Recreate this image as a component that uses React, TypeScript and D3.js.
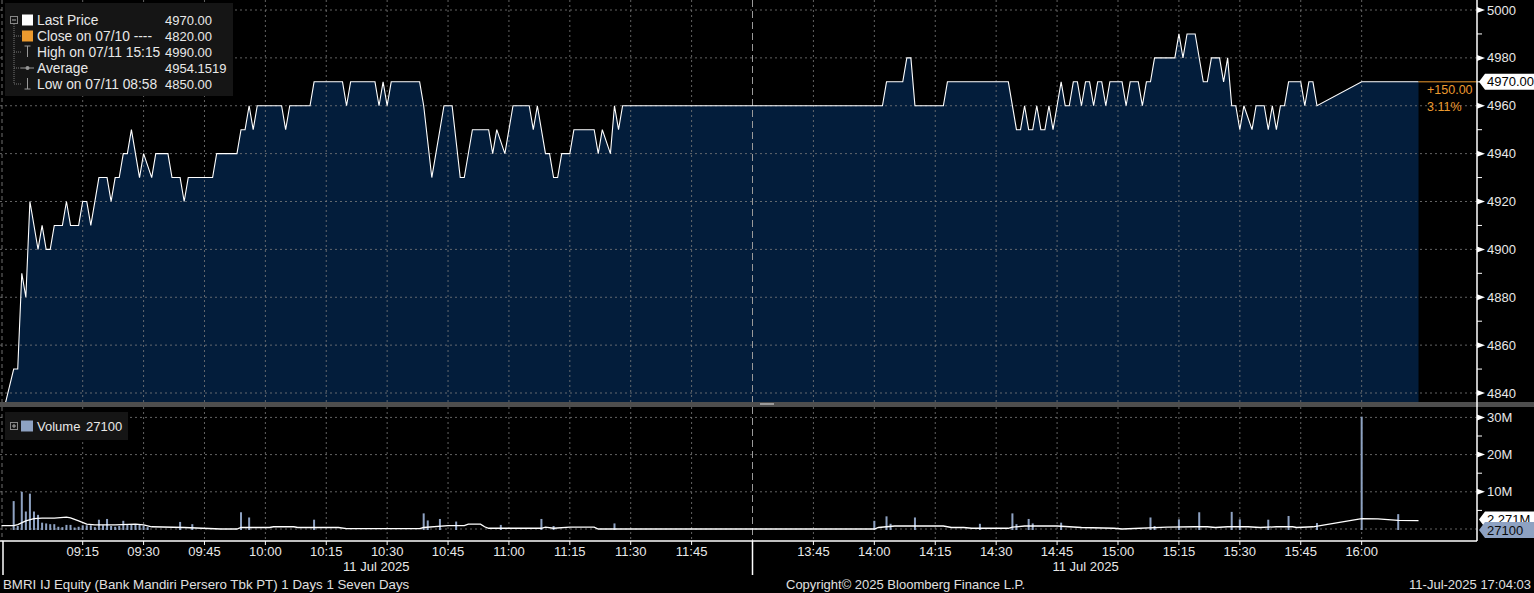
import React from "react";
import * as d3 from "d3";

// ---------- DATA ----------
// minute-bar price turning points (time, price)
const priceSeries: [string, number][] = [
  ["08:56", 4836], ["08:58", 4850], ["08:59", 4850], ["09:00", 4890], ["09:01", 4880], ["09:02", 4920],
  ["09:04", 4900], ["09:05", 4910], ["09:06", 4900], ["09:07", 4900], ["09:08", 4910], ["09:10", 4910],
  ["09:11", 4920], ["09:12", 4910], ["09:14", 4910], ["09:15", 4920], ["09:16", 4920], ["09:17", 4910],
  ["09:19", 4930], ["09:21", 4930], ["09:22", 4920], ["09:23", 4930], ["09:24", 4930], ["09:25", 4940],
  ["09:26", 4940], ["09:27", 4950], ["09:29", 4930], ["09:30", 4940], ["09:32", 4930], ["09:33", 4940],
  ["09:36", 4940], ["09:37", 4930], ["09:39", 4930], ["09:40", 4920], ["09:41", 4930], ["09:47", 4930],
  ["09:48", 4940], ["09:53", 4940], ["09:54", 4950], ["09:55", 4950], ["09:56", 4960], ["09:57", 4950],
  ["09:58", 4960], ["10:04", 4960], ["10:05", 4950], ["10:06", 4960], ["10:11", 4960], ["10:12", 4970],
  ["10:19", 4970], ["10:20", 4960], ["10:21", 4970], ["10:27", 4970], ["10:28", 4960], ["10:29", 4970],
  ["10:30", 4960], ["10:31", 4970], ["10:38", 4970], ["10:39", 4960], ["10:41", 4930], ["10:44", 4960],
  ["10:46", 4960], ["10:48", 4930], ["10:49", 4930], ["10:51", 4950], ["10:55", 4950], ["10:56", 4940],
  ["10:57", 4950], ["10:59", 4940], ["11:01", 4960], ["11:05", 4960], ["11:06", 4950], ["11:07", 4960],
  ["11:09", 4940], ["11:10", 4940], ["11:11", 4930], ["11:12", 4930], ["11:13", 4940], ["11:15", 4940],
  ["11:16", 4950], ["11:21", 4950], ["11:22", 4940], ["11:23", 4950], ["11:25", 4940], ["11:26", 4960],
  ["11:27", 4950], ["11:28", 4960],
  ["14:02", 4960], ["14:03", 4970], ["14:07", 4970], ["14:08", 4980], ["14:09", 4980], ["14:10", 4960],
  ["14:17", 4960], ["14:18", 4970], ["14:33", 4970], ["14:35", 4950], ["14:36", 4950], ["14:37", 4960],
  ["14:38", 4950], ["14:39", 4950], ["14:40", 4960], ["14:41", 4950], ["14:42", 4950], ["14:43", 4960],
  ["14:44", 4950], ["14:45", 4960], ["14:46", 4970], ["14:47", 4960], ["14:48", 4960], ["14:49", 4970],
  ["14:50", 4970], ["14:51", 4960], ["14:52", 4970], ["14:53", 4970], ["14:54", 4960], ["14:55", 4970],
  ["14:56", 4970], ["14:57", 4960], ["14:58", 4970], ["15:01", 4970], ["15:02", 4960], ["15:03", 4970],
  ["15:05", 4970], ["15:06", 4960], ["15:07", 4970], ["15:08", 4970], ["15:09", 4980], ["15:14", 4980],
  ["15:15", 4990], ["15:16", 4980], ["15:17", 4990], ["15:19", 4990], ["15:21", 4970], ["15:22", 4970],
  ["15:23", 4980], ["15:25", 4980], ["15:26", 4970], ["15:27", 4980], ["15:28", 4960], ["15:29", 4960],
  ["15:30", 4950], ["15:31", 4960], ["15:33", 4950], ["15:34", 4960], ["15:36", 4960], ["15:37", 4950],
  ["15:38", 4960], ["15:39", 4950], ["15:40", 4960], ["15:41", 4960], ["15:42", 4970], ["15:45", 4970],
  ["15:46", 4960], ["15:47", 4970], ["15:48", 4970], ["15:49", 4960], ["16:00", 4970], ["16:14", 4970],
];

// volume bars (time, millions of shares)
const volumeSeries: [string, number][] = [
  ["08:58", 7.5], ["08:59", 0.8], ["09:00", 10.0], ["09:01", 4.7], ["09:02", 9.5], ["09:03", 4.7],
  ["09:04", 3.8], ["09:05", 1.7], ["09:06", 1.5], ["09:07", 1.3], ["09:08", 1.3], ["09:09", 0.6],
  ["09:10", 0.5], ["09:11", 1.1], ["09:12", 1.1], ["09:13", 0.4], ["09:14", 0.6], ["09:15", 1.0],
  ["09:16", 1.0], ["09:17", 1.0], ["09:18", 0.5], ["09:19", 2.5], ["09:20", 1.0], ["09:21", 2.7],
  ["09:22", 0.8], ["09:23", 0.6], ["09:24", 0.8], ["09:25", 2.2], ["09:26", 1.3], ["09:27", 1.3],
  ["09:28", 1.3], ["09:29", 1.3], ["09:30", 0.9], ["09:31", 0.5], ["09:39", 1.9], ["09:42", 1.3],
  ["09:54", 4.5], ["09:56", 3.1], ["10:12", 2.5], ["10:39", 4.2], ["10:40", 2.3], ["10:43", 2.7],
  ["10:47", 2.0], ["10:58", 1.1], ["11:08", 2.7], ["11:11", 0.8], ["11:26", 1.5],
  ["14:00", 2.2], ["14:03", 3.4], ["14:04", 1.4], ["14:10", 3.1], ["14:26", 1.4], ["14:34", 4.2],
  ["14:35", 1.3], ["14:38", 2.7], ["14:39", 1.5], ["14:46", 1.7], ["15:08", 3.1], ["15:09", 0.8],
  ["15:15", 2.6], ["15:20", 4.5], ["15:28", 4.6], ["15:30", 2.6], ["15:37", 2.5], ["15:42", 3.5],
  ["15:49", 1.6], ["16:00", 30.2], ["16:09", 4.0],
];

// volume moving average (time, millions)
const volumeAvg: [string, number][] = [
  ["08:55", 0.9], ["08:58", 0.9], ["08:59", 1.2], ["09:01", 2.2], ["09:03", 2.8], ["09:05", 2.9],
  ["09:08", 2.9], ["09:11", 3.2], ["09:12", 3.0], ["09:14", 2.2], ["09:16", 1.3], ["09:18", 1.1],
  ["09:23", 1.1], ["09:28", 1.3], ["09:30", 1.1], ["09:32", 0.6], ["09:40", 0.4], ["09:49", 0.0],
  ["09:53", 0.0], ["09:54", 0.4], ["10:01", 0.4], ["10:02", 0.6], ["10:07", 0.6], ["10:08", 0.4],
  ["10:18", 0.4], ["10:20", 0.1], ["10:38", 0.1], ["10:39", 0.4], ["10:45", 0.9], ["10:49", 0.9],
  ["10:50", 1.3], ["10:53", 1.3], ["10:54", 0.6], ["10:55", 0.2], ["11:08", 0.2], ["11:09", 0.5],
  ["11:11", 0.2], ["11:15", 0.5], ["11:21", 0.5], ["11:22", 0.0],
  ["14:00", 0.0], ["14:01", 0.4], ["14:05", 0.8], ["14:17", 0.8], ["14:19", 0.4], ["14:22", 0.4],
  ["14:24", 0.2], ["14:33", 0.2], ["14:34", 0.5], ["14:37", 0.8], ["14:45", 0.8], ["14:51", 0.4],
  ["14:59", 0.2], ["15:01", 0.0], ["15:12", 0.5], ["15:19", 0.6], ["15:22", 0.6], ["15:24", 0.4],
  ["15:27", 0.6], ["15:32", 0.6], ["15:35", 0.4], ["15:39", 0.6], ["15:43", 0.6], ["15:44", 0.4],
  ["15:48", 0.6], ["16:00", 2.8], ["16:04", 2.7], ["16:09", 2.3], ["16:14", 2.27],
];

const session1Ticks = ["09:15", "09:30", "09:45", "10:00", "10:15", "10:30", "10:45", "11:00", "11:15", "11:30", "11:45"];
const session2Ticks = ["13:45", "14:00", "14:15", "14:30", "14:45", "15:00", "15:15", "15:30", "15:45", "16:00"];
const priceTicks = [4840, 4860, 4880, 4900, 4920, 4940, 4960, 4980, 5000];
const priceMinorTicks = [4850, 4870, 4890, 4910, 4930, 4950, 4970, 4990];
const volumeTicks = [10, 20, 30];
const volumeMinorTicks = [5, 15, 25];

const legendLabels = ["Last Price", "Close on 07/10 ----", "High on 07/11 15:15", "Average", "Low on 07/11 08:58"];
const legendValues = ["4970.00", "4820.00", "4990.00", "4954.1519", "4850.00"];
const lastPrice = 4970;
const changeText = ["+150.00", "3.11%"];
const volumeLast = "27100";
const volumeAvgLast = 2.271;
const dateLabel = "11 Jul 2025";
const footerLeft = "BMRI IJ Equity (Bank Mandiri Persero Tbk PT) 1 Days 1 Seven Days";
const footerMid = "Copyright\u00A9 2025 Bloomberg Finance L.P.";
const footerRight = "11-Jul-2025 17:04:03";

// ---------- LAYOUT ----------
const W = 1534, H = 593;
const PLOT_R = 1477;
const PRICE_BOTTOM = 402;
const VOL_TOP = 407;
const AXIS_Y = 541;
const FONT = "'Liberation Sans', Arial, sans-serif";
const FILL = "#031d3b";
const VOL_COLOR = "#8ea2c2";
const ORANGE = "#eb9a2f";
const GRID = "#7c7c7c";

const tm = (s: string) => {
  const [h, m] = s.split(":").map(Number);
  return (h - 9) * 60 + m;
};

export default function App() {
  const x = d3.scaleLinear().domain([-5.37, 180, 270, 448.4]).range([0, 752.5, 752.5, PLOT_R]);
  const yP = d3.scaleLinear().domain([4840, 5000]).range([393, 10]);
  const yV = d3.scaleLinear().domain([0, 30]).range([529, 417.4]);

  const pts = priceSeries.map(([t, v]) => ({ t: tm(t), v }));
  const areaPath = d3.area<{ t: number; v: number }>().x(d => x(d.t)).y0(PRICE_BOTTOM).y1(d => yP(d.v))(pts) || "";
  const linePath = d3.line<{ t: number; v: number }>().x(d => x(d.t)).y(d => yP(d.v))(pts) || "";
  const avgPts = volumeAvg.map(([t, v]) => ({ t: tm(t), v }));
  const avgPath = d3.line<{ t: number; v: number }>().x(d => x(d.t)).y(d => yV(d.v))(avgPts) || "";

  const allTicks = [...session1Ticks, ...session2Ticks];
  const lastX = x(tm(priceSeries[priceSeries.length - 1][0]));
  const breakX = x(180);
  const startX = 2;

  const tag = (y: number, fill: string, text: string, color: string, key: string) => (
    <g key={key}>
      <path d={`M1479,${y} L1485,${y - 8} L${W},${y - 8} L${W},${y + 8} L1485,${y + 8} Z`} fill={fill} />
      <text x={1487} y={y} dy="0.35em" fill={color} fontSize={13} fontFamily={FONT}>{text}</text>
    </g>
  );

  const rowY = [20, 36, 52, 68, 84];

  return (
    <svg width={W} height={H} style={{ position: "fixed", left: 0, top: 0, background: "#000" }} fontFamily={FONT}>
      <rect x={0} y={0} width={W} height={H} fill="#000" />
      {/* price area */}
      <path d={areaPath} fill={FILL} />

      {/* price grid */}
      {priceTicks.map(v => (
        <line key={"pg" + v} x1={0} x2={PLOT_R} y1={yP(v)} y2={yP(v)} stroke={GRID} strokeDasharray="2,3" strokeWidth={1} opacity={0.8} />
      ))}
      {allTicks.map(t => (
        <line key={"pv" + t} x1={x(tm(t))} x2={x(tm(t))} y1={0} y2={PRICE_BOTTOM} stroke={GRID} strokeDasharray="2,3" opacity={0.8} />
      ))}
      <line x1={startX} x2={startX} y1={0} y2={PRICE_BOTTOM} stroke={GRID} strokeDasharray="4,3" opacity={0.9} />
      <line x1={breakX} x2={breakX} y1={0} y2={PRICE_BOTTOM} stroke="#9a9a9a" strokeDasharray="7,4" />

      {/* price line */}
      <path d={linePath} fill="none" stroke="#fff" strokeWidth={1.1} />
      <line x1={lastX} x2={PLOT_R} y1={yP(lastPrice)} y2={yP(lastPrice)} stroke={ORANGE} strokeWidth={1} />
      <text x={1427} y={89.5} dy="0.35em" fill={ORANGE} fontSize={12.5}>{changeText[0]}</text>
      <text x={1427} y={106.5} dy="0.35em" fill={ORANGE} fontSize={12.5}>{changeText[1]}</text>

      {/* volume grid */}
      {[0, ...volumeTicks].map(v => (
        <line key={"vg" + v} x1={0} x2={PLOT_R} y1={yV(v)} y2={yV(v)} stroke={GRID} strokeDasharray="2,3" opacity={0.8} />
      ))}
      {allTicks.map(t => (
        <line key={"vv" + t} x1={x(tm(t))} x2={x(tm(t))} y1={VOL_TOP} y2={AXIS_Y} stroke={GRID} strokeDasharray="2,3" opacity={0.8} />
      ))}
      <line x1={startX} x2={startX} y1={VOL_TOP} y2={AXIS_Y} stroke={GRID} strokeDasharray="4,3" opacity={0.9} />
      <line x1={breakX} x2={breakX} y1={VOL_TOP} y2={AXIS_Y} stroke="#9a9a9a" strokeDasharray="7,4" />

      {/* volume bars */}
      {volumeSeries.map(([t, v]) => (
        <rect key={"vb" + t} x={x(tm(t)) - 1} y={yV(v)} width={2} height={yV(0) - yV(v) + 1} fill={VOL_COLOR} />
      ))}
      <path d={avgPath} fill="none" stroke="#fff" strokeWidth={1.3} />

      {/* panel separator */}
      <rect x={0} y={PRICE_BOTTOM} width={W} height={5} fill="#4e4e4e" />
      <rect x={760} y={403} width={14} height={2} fill="#9a9a9a" />

      {/* axes */}
      <line x1={PLOT_R} x2={PLOT_R} y1={0} y2={AXIS_Y} stroke="#fff" strokeWidth={1.5} />
      <line x1={0} x2={PLOT_R} y1={AXIS_Y} y2={AXIS_Y} stroke="#fff" strokeWidth={1.5} />
      {priceTicks.map(v => (
        <g key={"pt" + v}>
          <path d={`M${PLOT_R},${yP(v) - 3} L${PLOT_R + 8},${yP(v)} L${PLOT_R},${yP(v) + 3} Z`} fill="#fff" />
          <text x={1487} y={yP(v)} dy="0.35em" fill="#e8e8e8" fontSize={13}>{v}</text>
        </g>
      ))}
      {priceMinorTicks.map(v => (
        <line key={"pm" + v} x1={PLOT_R} x2={PLOT_R + 5} y1={yP(v)} y2={yP(v)} stroke="#fff" />
      ))}
      {volumeTicks.map(v => (
        <g key={"vt" + v}>
          <path d={`M${PLOT_R},${yV(v) - 3} L${PLOT_R + 8},${yV(v)} L${PLOT_R},${yV(v) + 3} Z`} fill="#fff" />
          <text x={1487} y={yV(v)} dy="0.35em" fill="#e8e8e8" fontSize={13}>{v + "M"}</text>
        </g>
      ))}
      {volumeMinorTicks.map(v => (
        <line key={"vm" + v} x1={PLOT_R} x2={PLOT_R + 5} y1={yV(v)} y2={yV(v)} stroke="#fff" />
      ))}

      {tag(yP(lastPrice), "#fff", lastPrice.toFixed(2), "#000", "lp")}
      {tag(yV(volumeAvgLast) - 1, "#fff", volumeAvgLast.toFixed(3) + "M", "#000", "va")}
      {tag(yV(0) + 1, VOL_COLOR, volumeLast, "#0a0a0a", "vl")}

      {/* x axis */}
      {allTicks.map(t => (
        <g key={"xt" + t}>
          <line x1={x(tm(t))} x2={x(tm(t))} y1={AXIS_Y} y2={AXIS_Y + 4} stroke="#fff" />
          <text x={x(tm(t))} y={556} textAnchor="middle" fill="#e8e8e8" fontSize={13}>{t}</text>
        </g>
      ))}
      <line x1={startX + 1} x2={startX + 1} y1={AXIS_Y} y2={575} stroke="#fff" strokeWidth={1.5} />
      <line x1={breakX} x2={breakX} y1={AXIS_Y} y2={575} stroke="#fff" strokeWidth={1.5} />
      <text x={(0 + breakX) / 2} y={571} textAnchor="middle" fill="#e8e8e8" fontSize={13}>{dateLabel}</text>
      <text x={(breakX + lastX) / 2} y={571} textAnchor="middle" fill="#e8e8e8" fontSize={13}>{dateLabel}</text>

      {/* footer */}
      <text x={3} y={589} fill="#e0e0e0" fontSize={13.3}>{footerLeft}</text>
      <text x={786} y={589} fill="#e0e0e0" fontSize={13}>{footerMid}</text>
      <text x={1531} y={589} textAnchor="end" fill="#e0e0e0" fontSize={13}>{footerRight}</text>

      {/* price legend */}
      <rect x={5} y={3} width={228} height={93} fill="#151515" />
      <line x1={14} x2={14} y1={24} y2={84} stroke="#777" strokeDasharray="1,1" />
      {rowY.slice(1).map(y => (
        <line key={"br" + y} x1={14} x2={21} y1={y} y2={y} stroke="#777" strokeDasharray="1,1" />
      ))}
      <rect x={10.5} y={16.5} width={7} height={7} fill="#151515" stroke="#888" />
      <line x1={12} x2={16} y1={20} y2={20} stroke="#aaa" />
      <rect x={22} y={14.5} width={11} height={11} fill="#fff" />
      <rect x={22} y={30.5} width={11} height={11} fill={ORANGE} />
      <line x1={27.5} x2={27.5} y1={46} y2={57} stroke="#999" />
      <line x1={24.5} x2={30.5} y1={46} y2={46} stroke="#999" />
      <line x1={21} x2={34} y1={68} y2={68} stroke="#999" />
      <circle cx={27.5} cy={68} r={2} fill="#999" />
      <line x1={27.5} x2={27.5} y1={78} y2={89} stroke="#999" />
      <line x1={24.5} x2={30.5} y1={89} y2={89} stroke="#999" />
      {legendLabels.map((l, i) => (
        <g key={"lg" + i}>
          <text x={37} y={rowY[i]} dy="0.35em" fill="#e8e8e8" fontSize={13.8}>{l}</text>
          <text x={165} y={rowY[i]} dy="0.35em" fill="#e8e8e8" fontSize={13}>{legendValues[i]}</text>
        </g>
      ))}

      {/* volume legend */}
      <rect x={5} y={412} width={123} height={28} fill="#151515" />
      <rect x={10.5} y={422.5} width={7} height={7} fill="#151515" stroke="#888" />
      <line x1={12} x2={16} y1={426} y2={426} stroke="#aaa" />
      <line x1={14} x2={14} y1={424} y2={428} stroke="#aaa" />
      <rect x={21} y={420.5} width={12} height={11} fill={VOL_COLOR} />
      <text x={37} y={426.5} dy="0.35em" fill="#e8e8e8" fontSize={13}>Volume</text>
      <text x={86} y={426.5} dy="0.35em" fill="#e8e8e8" fontSize={13}>{volumeLast}</text>
    </svg>
  );
}
